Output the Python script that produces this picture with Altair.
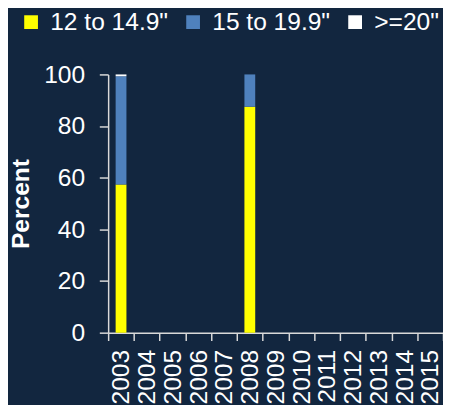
import altair as alt
import pandas as pd

years = [str(y) for y in range(2003, 2016)]
cats = ['12 to 14.9"', '15 to 19.9"', '>=20"']
colors = ["#ffff00", "#4f81bd", "#ffffff"]

data_years = ["2003", "2003", "2003", "2008", "2008", "2008"]
data_cats = cats + cats
data_vals = [57.4, 41.9, 0.7, 87.5, 12.5, 0.0]
data_order = [0, 1, 2, 0, 1, 2]

df = pd.DataFrame({"year": data_years, "size": data_cats, "pct": data_vals, "ord": data_order})

FONT = "Liberation Sans"
BG = "#12263f"

chart = alt.Chart(df).mark_bar(width=11).encode(
    x=alt.X("year:N", scale=alt.Scale(domain=years, paddingInner=0, paddingOuter=0),
            axis=alt.Axis(title=None, labelAngle=-90, tickBand="extent", labelPadding=9,
                          tickSize=8, labelBaseline="middle", labelAlign="right")),
    y=alt.Y("pct:Q", stack="zero", scale=alt.Scale(domain=[0, 100], nice=False),
            axis=alt.Axis(title="Percent", values=[0, 20, 40, 60, 80, 100], tickSize=9,
                          labelPadding=15, titlePadding=10, titleFontWeight="bold", grid=False)),
    color=alt.Color("size:N", scale=alt.Scale(domain=cats, range=colors),
                    legend=alt.Legend(title=None, orient="none", direction="horizontal",
                                      legendX=-91, legendY=-66, symbolType="square",
                                      symbolSize=196, symbolStrokeWidth=0, labelFontSize=25,
                                      labelColor="white", labelFont=FONT, columnPadding=12,
                                      labelOffset=7, padding=0)),
    order=alt.Order("ord:Q"),
).properties(
    width=341, height=263,
    autosize=alt.AutoSizeParams(type="none"),
    padding={"left": 102, "top": 64, "right": 0, "bottom": 70},
    background=BG,
).configure_view(stroke=None).configure_axis(
    labelFont=FONT, titleFont=FONT, labelFontSize=25, titleFontSize=25,
    labelColor="white", titleColor="white", domainColor="#d9d9d9", tickColor="#d9d9d9",
    domainWidth=1.5, tickWidth=1.5,
)

chart.save("out.html", embed_options={"renderer": "svg", "actions": False})
